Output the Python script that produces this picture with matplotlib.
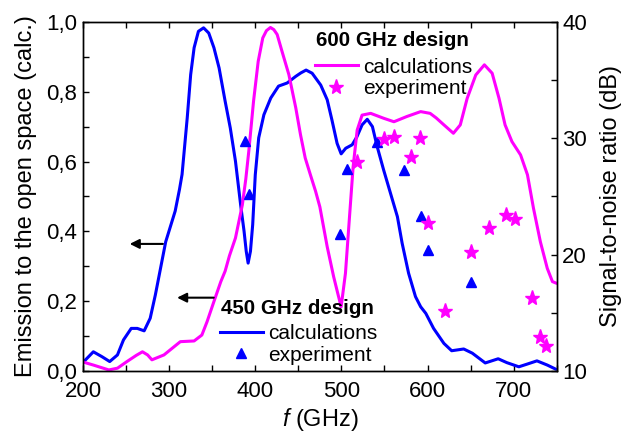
"""Emission to open space (calc.) and measured SNR for the 450/600 GHz designs."""

import matplotlib

matplotlib.use("Agg")
import matplotlib.pyplot as plt
from matplotlib.lines import Line2D
from matplotlib.ticker import FuncFormatter, MultipleLocator

# 450 GHz design, calculated emission
blue_f = [201, 212, 222, 231, 240, 247, 256, 263, 271, 278, 284, 290, 296, 302, 307, 312,
          315, 321, 325, 329, 334, 340, 346, 352, 358, 365, 371, 377, 383, 387, 389.5, 391.7,
          394.4, 397, 400, 404, 410, 418, 427, 437, 447, 453, 459, 466, 476, 483.5, 489, 495,
          499.7, 505, 512.5, 518, 524, 530, 536, 541.5, 549, 557, 565, 570.5, 578, 586,
          592, 598, 607, 619, 628, 642, 652, 667, 682, 692, 706, 716, 727, 739, 749]
blue_e = [0.027, 0.055, 0.041, 0.027, 0.046, 0.089, 0.122, 0.122, 0.115, 0.151, 0.218, 0.294,
          0.37, 0.418, 0.458, 0.52, 0.563, 0.725, 0.849, 0.926, 0.973, 0.983, 0.968, 0.926,
          0.868, 0.773, 0.696, 0.601, 0.476, 0.40, 0.343, 0.309, 0.343, 0.419, 0.562, 0.668,
          0.734, 0.782, 0.816, 0.825, 0.844, 0.854, 0.862, 0.853, 0.819, 0.777, 0.719, 0.652,
          0.622, 0.638, 0.648, 0.671, 0.705, 0.721, 0.70, 0.643, 0.576, 0.509, 0.442, 0.366,
          0.28, 0.213, 0.184, 0.165, 0.122, 0.079, 0.058, 0.063, 0.051, 0.023, 0.035, 0.024,
          0.012, 0.02, 0.029, 0.017, 0.005]

# 600 GHz design, calculated emission
mag_f = [201, 212, 230, 240, 251, 262, 269, 275, 280, 294, 313, 329, 338, 344, 352, 360,
         365, 370, 377, 385, 389, 392.5, 398, 403.4, 408.7, 413, 417.6, 421.5, 425.4, 431,
         439, 447, 452.5, 458, 464, 470, 475, 483.5, 491, 496, 499.7, 504.7, 509.7, 513.6,
         518.3, 524, 534, 549, 561, 576, 592, 603, 610, 619, 630, 638, 646, 656, 666, 675,
         683, 690, 698, 708, 716, 723, 731, 739, 745, 750]
mag_e = [0.025, 0.017, 0.003, 0.008, 0.027, 0.045, 0.055, 0.046, 0.032, 0.046, 0.084, 0.086,
         0.103, 0.141, 0.199, 0.256, 0.286, 0.33, 0.381, 0.476, 0.55, 0.63, 0.773, 0.887,
         0.954, 0.975, 0.984, 0.978, 0.964, 0.916, 0.849, 0.754, 0.677, 0.61, 0.562, 0.515,
         0.47, 0.356, 0.27, 0.22, 0.184, 0.28, 0.452, 0.585, 0.69, 0.733, 0.738, 0.724,
         0.714, 0.729, 0.743, 0.738, 0.725, 0.705, 0.681, 0.705, 0.781, 0.848, 0.877, 0.853,
         0.781, 0.705, 0.657, 0.619, 0.562, 0.466, 0.37, 0.294, 0.256, 0.251]

# measured signal-to-noise ratio (dB)
tri_f = [388, 392.5, 498, 506, 541, 573, 592.5, 601, 651]
tri_snr = [29.8, 25.2, 21.75, 27.4, 29.7, 27.3, 23.35, 20.4, 17.65]
star_f = [518, 550, 561, 581, 591, 601, 620, 651, 671, 691, 701, 721, 730, 737]
star_snr = [27.95, 29.9, 30.1, 28.4, 30.0, 22.75, 15.15, 20.2, 22.3, 23.4, 23.1, 16.25,
            12.95, 12.15]

BLUE = "#0000ff"
MAGENTA = "#ff00ff"

plt.rcParams["font.family"] = ["Liberation Sans", "DejaVu Sans"]
plt.rcParams["mathtext.fontset"] = "custom"
plt.rcParams["mathtext.it"] = "Liberation Sans:italic"
plt.rcParams["mathtext.rm"] = "Liberation Sans"


def comma(v, _pos):
    return f"{v:.1f}".replace(".", ",")


fig = plt.figure(figsize=(6.25, 4.38), dpi=100)
ax = fig.add_axes([0.1328, 0.153, 0.758, 0.797])
ax2 = ax.twinx()

line_kw = dict(lw=2.2, solid_joinstyle="round", solid_capstyle="round")
ax.plot(blue_f, blue_e, color=BLUE, **line_kw)
ax.plot(mag_f, mag_e, color=MAGENTA, **line_kw)
ax2.plot(tri_f, tri_snr, "^", color=BLUE, ms=7, ls="none")
ax2.plot(star_f, star_snr, "*", color=MAGENTA, ms=11, ls="none")

ax.set_xlim(200, 750)
ax.set_ylim(0, 1.0)
ax2.set_ylim(10, 40)

ax.xaxis.set_major_locator(MultipleLocator(100))
ax.xaxis.set_minor_locator(MultipleLocator(50))
ax.yaxis.set_major_locator(MultipleLocator(0.2))
ax.yaxis.set_minor_locator(MultipleLocator(0.1))
ax.yaxis.set_major_formatter(FuncFormatter(comma))
ax2.yaxis.set_major_locator(MultipleLocator(10))
ax2.yaxis.set_minor_locator(MultipleLocator(5))

ax.tick_params(which="both", direction="in", top=True, length=4, width=1, labelsize=16)
ax.tick_params(axis="x", pad=7)
ax.tick_params(axis="y", pad=4)
ax2.tick_params(which="both", direction="in", length=4, width=1, labelsize=16, pad=4)
for a in (ax, ax2):
    for s in a.spines.values():
        s.set_linewidth(1)

ax.set_xlabel("$f$ (GHz)", fontsize=17, labelpad=3)
ax.set_ylabel("Emission to the open space (calc.)", fontsize=17, labelpad=7)
ax2.set_ylabel("Signal-to-noise ratio (dB)", fontsize=17, labelpad=9)

arrow_kw = dict(arrowstyle="-|>", color="black", lw=1.5, mutation_scale=14)
ax.annotate("", xy=(251, 0.364), xytext=(296, 0.364), arrowprops=arrow_kw)
ax.annotate("", xy=(306, 0.21), xytext=(355, 0.21), arrowprops=arrow_kw)

labels = ["calculations", "experiment"]
leg_kw = dict(loc="center left", frameon=False, fontsize=15, handlelength=2.05,
              handletextpad=0.25, labelspacing=0.12, borderpad=0, borderaxespad=0)

h600 = [Line2D([], [], color=MAGENTA, lw=2.2),
        Line2D([], [], marker="*", color=MAGENTA, ms=11, ls="none")]
leg600 = ax2.legend(h600, labels, bbox_to_anchor=(0.4895, 0.8395), **leg_kw)
ax2.add_artist(leg600)
ax2.text(0.491, 0.948, "600 GHz design", transform=ax.transAxes, fontsize=14.8,
         fontweight="bold", va="center", ha="left")

h450 = [Line2D([], [], color=BLUE, lw=2.2),
        Line2D([], [], marker="^", color=BLUE, ms=7, ls="none")]
ax2.legend(h450, labels, bbox_to_anchor=(0.289, 0.076), **leg_kw)
ax2.text(0.291, 0.18, "450 GHz design", transform=ax.transAxes, fontsize=14.8,
         fontweight="bold", va="center", ha="left")

fig.savefig("out.png", dpi=100)
